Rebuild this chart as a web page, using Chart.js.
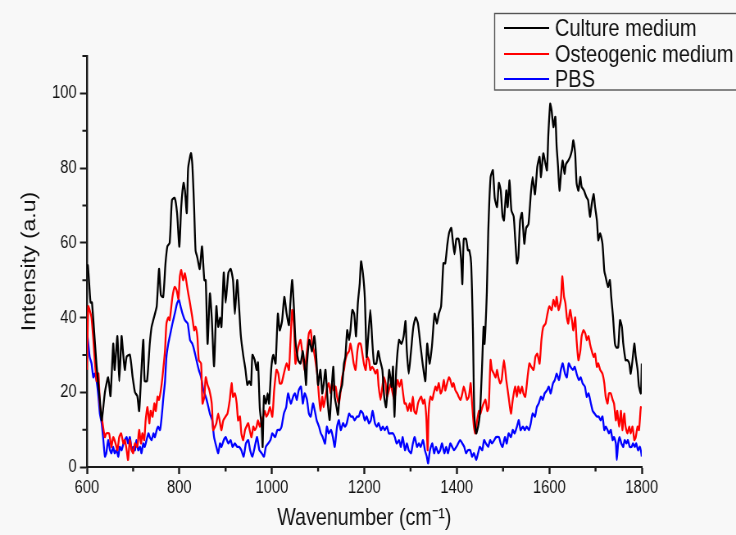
<!DOCTYPE html>
<html>
<head>
<meta charset="utf-8">
<script src="https://cdn.jsdelivr.net/npm/chart.js@4.4.0/dist/chart.umd.min.js"></script>
<style>
body { margin: 0; background: #f8f8f8; overflow: hidden; }
canvas { display: block; }
</style>
</head>
<body>
<!-- the figure is horizontally squashed, so draw wide and shrink to 736 -->
<canvas id="myChart" width="898" height="535" style="width:736px;height:535px"></canvas>
<script>
// [wavenumber cm-1, intensity a.u]
var culture = [[600,53],[602,54],[605,49],[608,44],[611,44],[621,27],[628,18],[632,12.5],[639,20],[646,24],[651,19],[657,33],[660,26],[666,35],[670,23],[675,35],[678,31],[682,26],[686,29.5],[693,30],[699,24],[704,20],[709,19],[713,15],[718,26],[722,34],[725,23],[730,23],[736,33],[740,37.5],[745,40],[751,43],[756,53],[760,46],[765,45.5],[770,54.5],[774,59],[779,60],[784,71.5],[790,72],[795,68],[800,59],[804,69.6],[809,76],[812,74],[816,68],[819,80],[825,84],[828,81],[832,69],[835,58],[839,56],[844,53],[849,59],[854,50],[857,50],[861,33],[866,46.4],[870,40],[875,27],[880,43],[884,37.5],[888,40],[891,37.5],[896,52],[900,44],[906,52],[911,53],[916,50],[920,41],[925,50],[929,43],[933,35],[938,30],[943,26],[947,22],[951,23],[955,22],[958,30],[963,28.6],[967,26],[970,28],[974,15.7],[978,10.8],[980,5.4],[983,19],[987,17],[991,19.7],[994,17],[999,26.8],[1003,30],[1008,27.7],[1013,41],[1017,36.6],[1022,39],[1027,45.5],[1032,41],[1037,38],[1040,43.8],[1044,50],[1048,42],[1051,34],[1057,28.6],[1062,27.7],[1067,31],[1071,26.8],[1074,22],[1076,27.7],[1081,34],[1087,31],[1092,35],[1096,29.5],[1100,22],[1105,26],[1109,19.7],[1112,22],[1116,26],[1121,17],[1125,12.6],[1129,20.5],[1133,26.8],[1136,18.8],[1140,16],[1143,14],[1147,19.7],[1152,22],[1156,27.7],[1159,29.5],[1163,36.6],[1167,34],[1170,36.6],[1174,42],[1178,41],[1182,35],[1186,43.8],[1190,49],[1193,55],[1197,51.8],[1201,45.5],[1205,29.5],[1208,34],[1213,42],[1217,34],[1221,27.7],[1226,27.7],[1230,31],[1234,28.6],[1239,26],[1243,18.8],[1247,16],[1251,22],[1254,26],[1259,21.5],[1262,26.8],[1265,13.5],[1269,26],[1275,34],[1280,33],[1285,35],[1289,39],[1292,31],[1296,25],[1301,31],[1306,37.5],[1311,40],[1316,38.4],[1321,33],[1327,26.8],[1332,23],[1336,33],[1341,27.7],[1346,32],[1352,41],[1357,38.4],[1361,41],[1366,43],[1371,54.5],[1375,54.5],[1379,59],[1383,62.5],[1388,64],[1391,61],[1395,57],[1399,61],[1404,61],[1409,56],[1412,49],[1415,61],[1420,61],[1424,58],[1427,58],[1431,54.5],[1435,35.7],[1438,13.5],[1442,9],[1446,10.8],[1450,14.3],[1454,25],[1458,37.5],[1460,33],[1465,47],[1468,63],[1473,77.6],[1478,79.4],[1482,72],[1487,69.6],[1491,76],[1495,74],[1499,67],[1502,66],[1507,74],[1510,69.6],[1514,76.7],[1518,68.7],[1523,67],[1526,61.6],[1530,54.5],[1533,56],[1537,66],[1541,68],[1546,59.8],[1550,64],[1555,65],[1560,73],[1564,77.6],[1569,73],[1574,80.3],[1579,83],[1582,77.6],[1587,83.9],[1592,81],[1595,79.4],[1598,89],[1602,97.2],[1605,95.4],[1609,91],[1613,93.7],[1616,85.6],[1619,80.3],[1622,74],[1626,79.4],[1629,82],[1633,78.5],[1636,81],[1641,82],[1645,83],[1649,84.8],[1652,87.4],[1656,83.9],[1659,76],[1663,74],[1667,77.6],[1670,75],[1675,74],[1680,72.3],[1684,71.4],[1688,67],[1692,70.5],[1696,73],[1699,69.6],[1703,66],[1706,60.7],[1710,62.5],[1715,59.8],[1719,52.5],[1722,50.8],[1727,48.2],[1731,50],[1734,45.5],[1738,40],[1742,33],[1745,32],[1749,32],[1753,39.3],[1757,37.5],[1760,33],[1765,28.6],[1769,28.6],[1773,27.7],[1776,25],[1780,28.6],[1784,33],[1787,29.5],[1791,26],[1794,21.5],[1798,19.7],[1800,27.7]];

var osteo = [[600,26],[603,43],[606,42],[610,40],[614,34],[617,28.6],[621,23],[625,25],[628,17],[632,13.5],[635,10.8],[639,8],[642,9],[648,9],[653,5.4],[657,8],[662,6.3],[666,4.5],[670,8],[674,9],[679,6.3],[682,7.2],[686,4.5],[689,1.9],[693,7.2],[697,4.5],[700,3.7],[704,6.3],[709,5.4],[713,9.9],[717,6.3],[720,9],[724,7.2],[727,12.5],[731,16],[735,11.7],[738,15],[742,13.5],[746,17],[749,15],[753,18.8],[756,18],[761,21.5],[765,26],[769,31.3],[772,38.4],[776,40],[779,39.3],[785,45.5],[790,48.2],[794,47.3],[798,45],[801,51],[804,52.7],[808,50],[812,51.8],[818,47.3],[823,43.8],[828,40],[832,36.6],[835,37.5],[839,34.8],[842,28.6],[847,27.7],[850,17],[854,18.8],[857,24],[861,22],[865,20.5],[870,17],[873,9.9],[877,10.8],[880,11.7],[884,14.3],[888,11.7],[891,9.9],[895,12.5],[900,13.5],[904,14.3],[909,18],[913,22.4],[916,18.8],[920,19.7],[924,17],[927,12.5],[931,13.5],[934,9],[938,7.2],[942,9.9],[945,10.8],[949,11.7],[952,9.9],[956,8],[960,10.8],[963,9.9],[967,10.8],[970,12.5],[974,10.8],[978,12.5],[981,13.5],[985,15],[988,13.5],[992,14.3],[996,16],[1001,13.5],[1005,20.5],[1010,26],[1014,25],[1017,22.4],[1021,22.4],[1026,25],[1032,27.7],[1037,26],[1040,33],[1044,42],[1048,37.5],[1051,27.7],[1057,32],[1062,34],[1067,29.5],[1071,26],[1076,31],[1080,35.7],[1084,36.6],[1087,33],[1091,31],[1094,28.6],[1098,25],[1102,18.8],[1105,15],[1109,18.8],[1112,16],[1116,18.8],[1120,21.5],[1123,22.4],[1127,19.7],[1130,22.4],[1134,20.5],[1138,21.5],[1141,18.8],[1145,17],[1149,20.5],[1152,24],[1156,26],[1159,28.6],[1163,30.3],[1167,31],[1170,33],[1174,30.3],[1177,27.7],[1181,26],[1185,31],[1188,33],[1192,33],[1195,31],[1199,27.7],[1203,26],[1206,29.5],[1210,28.6],[1213,26],[1217,26.8],[1221,26],[1224,25],[1228,26],[1231,21.5],[1235,18],[1239,21.5],[1242,24],[1246,22.4],[1249,18.8],[1253,20.5],[1257,22.4],[1260,20.5],[1265,18],[1269,21.5],[1272,23.3],[1276,21.5],[1280,23.3],[1283,20.5],[1287,17],[1290,17],[1294,15],[1298,17],[1301,15],[1305,18.8],[1308,15],[1312,14.3],[1316,17],[1319,18],[1323,18.8],[1327,17],[1330,18],[1334,13.5],[1337,4.5],[1339,14.3],[1343,18.8],[1347,18],[1350,19.7],[1354,21.5],[1357,20.5],[1361,22.4],[1365,19.7],[1368,20.5],[1372,23.3],[1375,20.5],[1379,22.4],[1383,24],[1386,23.3],[1390,21.5],[1393,22.4],[1397,20.5],[1401,19.7],[1404,18.8],[1408,18],[1412,19.7],[1415,21.5],[1419,19.7],[1422,18],[1426,18.8],[1430,22.4],[1433,17],[1437,10.8],[1440,9],[1444,12.5],[1448,15],[1451,14.3],[1455,16],[1458,17],[1462,18],[1466,15],[1469,16],[1473,28.6],[1476,26],[1480,25],[1484,24],[1487,26],[1490,24],[1494,22.4],[1497,23.3],[1502,28.6],[1507,23.3],[1512,18.8],[1517,14.3],[1521,18],[1526,21.5],[1530,18.8],[1533,21.5],[1537,19.7],[1541,21.5],[1544,19.7],[1548,18.8],[1553,24],[1557,27.7],[1561,26.8],[1566,26],[1570,29.5],[1574,30.3],[1579,27.7],[1583,34],[1587,37.5],[1592,38.4],[1596,41],[1600,43],[1605,42],[1609,44.7],[1613,43],[1616,45.5],[1620,42],[1625,44.7],[1628,51],[1632,45.5],[1635,43.8],[1638,40],[1641,38.4],[1645,42],[1649,39.3],[1652,36.6],[1656,40],[1659,34],[1663,28.6],[1667,31],[1670,35],[1674,36.6],[1678,35.7],[1681,34],[1685,35],[1688,33],[1692,31],[1696,29.5],[1699,30.3],[1703,26.8],[1706,27.7],[1710,26],[1715,25],[1719,22.4],[1722,18.8],[1726,17],[1729,19.7],[1733,19.7],[1737,18],[1740,17],[1744,12.5],[1747,15],[1751,10.8],[1755,15],[1758,9.9],[1762,14.3],[1765,10.8],[1769,9],[1773,10.8],[1776,9],[1780,10.8],[1784,7.2],[1787,8],[1791,10.8],[1794,9.9],[1798,16],[1800,15.7]];

var pbs = [[600,36.6],[603,33],[606,29.5],[610,27.7],[614,24],[617,25],[621,23],[625,18.8],[628,14.3],[632,11.7],[635,8],[639,2.8],[642,3.7],[646,7.2],[650,4.5],[653,3.7],[657,5.4],[660,3.7],[664,4.5],[668,2.8],[671,5.4],[675,4.5],[679,6.3],[682,7.2],[686,8],[689,6.3],[693,8],[697,4.5],[700,5.4],[704,4.5],[707,7.2],[711,4.5],[715,5.4],[718,3.7],[722,6.3],[725,5.4],[729,7.2],[733,9],[736,8],[740,7.2],[744,9],[747,8],[751,9.9],[754,10.8],[758,9.9],[761,12.5],[765,18],[769,23],[772,29.5],[776,33],[779,34.8],[785,38.4],[790,41],[795,43.8],[799,44.7],[803,42.8],[807,41],[812,39.3],[818,38.4],[823,34],[828,33],[832,31.3],[837,28.6],[842,26],[847,24],[852,20.5],[857,18.8],[861,17],[866,14.3],[871,12.5],[875,8],[880,5.4],[884,3.7],[888,6.3],[891,5.4],[896,7.2],[900,8],[906,6.3],[911,7.2],[915,5.4],[920,6.3],[925,5.4],[929,5.4],[934,4.5],[939,2.8],[944,6.3],[949,7.2],[953,4.5],[958,2.8],[963,5.4],[968,8],[973,4.5],[978,3.7],[983,2.8],[987,5.4],[992,6.3],[997,7.2],[1001,9],[1007,8],[1012,9.9],[1017,9.9],[1021,10.8],[1026,14.3],[1031,16],[1035,19.7],[1041,17],[1046,18.8],[1050,19.7],[1054,18],[1058,20.5],[1063,21.5],[1067,17],[1071,19.7],[1076,18],[1080,14.3],[1084,13.5],[1089,17],[1093,15],[1097,12.5],[1102,10.8],[1106,9],[1110,8],[1115,6.3],[1119,10.8],[1123,9],[1128,9.9],[1132,8],[1136,5.4],[1141,10.8],[1145,12.5],[1149,9.9],[1154,11.7],[1158,10.8],[1162,11.7],[1167,14.3],[1171,13.5],[1175,13.5],[1179,12.5],[1184,13.5],[1188,13.5],[1192,15],[1197,14.3],[1201,12.5],[1205,13.5],[1210,11.7],[1214,12.5],[1218,15],[1223,11.7],[1227,10.8],[1231,11.7],[1236,9.9],[1240,10.8],[1244,9.9],[1249,10.8],[1253,9],[1257,9],[1262,9],[1266,8],[1270,6.3],[1275,7.2],[1279,5.4],[1283,8],[1288,4.5],[1292,6.3],[1296,4.5],[1301,3.7],[1305,6.3],[1309,8],[1314,5.4],[1318,6.3],[1322,5.4],[1327,7.2],[1331,4.5],[1335,2.8],[1338,1],[1342,4.5],[1347,6.3],[1351,3.7],[1355,5.4],[1360,3.7],[1364,4.5],[1368,6.3],[1373,3.7],[1377,5.4],[1381,3.7],[1386,6.3],[1390,5.4],[1394,4.5],[1399,5.4],[1403,6.3],[1407,7.2],[1412,6.3],[1416,5.4],[1420,3.7],[1424,4.5],[1429,4.5],[1433,2.8],[1437,3.7],[1442,1.9],[1446,3.7],[1450,5.4],[1455,4.5],[1459,7.2],[1463,6.3],[1468,5.4],[1472,7.2],[1476,6.3],[1481,7.2],[1485,8],[1491,8],[1495,6.3],[1499,5.4],[1504,8],[1508,6.3],[1512,9],[1517,8],[1521,9.9],[1525,9],[1530,10.8],[1534,12.5],[1538,9.9],[1543,10.8],[1547,9.9],[1551,10.8],[1556,9.9],[1560,11.7],[1564,14.3],[1569,13.5],[1573,16],[1577,17],[1582,18.8],[1586,18],[1590,19.7],[1595,20.5],[1599,21.5],[1603,19.7],[1608,22.4],[1612,23.3],[1616,25],[1621,23.3],[1625,26],[1629,27.7],[1634,25],[1638,24],[1642,27.7],[1646,26.8],[1651,26],[1655,26.8],[1659,25],[1664,23.3],[1668,24],[1672,22.4],[1677,21.5],[1681,18.8],[1685,19.7],[1690,17],[1694,15],[1698,14.3],[1703,13.5],[1707,13.5],[1711,12.5],[1715,13.5],[1719,9.9],[1722,10.8],[1726,9.9],[1729,9],[1733,9.9],[1737,7.2],[1740,8],[1744,6.3],[1746,1.9],[1749,6.3],[1752,8],[1756,6.3],[1760,5.4],[1763,7.2],[1767,6.3],[1770,7.2],[1774,5.4],[1778,5.4],[1781,6.3],[1785,5.4],[1788,6.3],[1792,4.5],[1796,5.4],[1799,3.7],[1800,2.8]];

var seriesNames = ['Culture medium', 'Osteogenic medium', 'PBS'];
var seriesColors = ['#000000', '#ff0000', '#0000ff'];
var xMinor = [700, 900, 1100, 1300, 1500, 1700];
var yMinor = [10, 30, 50, 70, 90, 110];

var fontFam = "'Liberation Sans', Arial, sans-serif";
var axisColor = '#1a1a1a';
Chart.defaults.font.family = fontFam;

function toPoints(arr) {
	return arr.map(function(p) { return {x: p[0], y: p[1]}; });
}

var bgPlugin = {
	id: 'bg',
	beforeDraw: function(chart) {
		var ctx = chart.ctx;
		ctx.save();
		ctx.fillStyle = '#f8f8f8';
		ctx.fillRect(0, 0, chart.width, chart.height);
		ctx.restore();
	}
};

// Chart.js has no minor ticks, draw them from the scales
var minorTicks = {
	id: 'minorTicks',
	afterDraw: function(chart) {
		var ctx = chart.ctx;
		var xs = chart.scales.x, ys = chart.scales.y;
		ctx.save();
		ctx.strokeStyle = axisColor;
		ctx.lineWidth = 2.4;
		ctx.beginPath();
		xMinor.forEach(function(v) {
			var px = xs.getPixelForValue(v);
			ctx.moveTo(px, xs.top);
			ctx.lineTo(px, xs.top + 4.5);
		});
		ctx.stroke();
		ctx.lineWidth = 2;
		ctx.beginPath();
		yMinor.forEach(function(v) {
			var py = ys.getPixelForValue(v);
			ctx.moveTo(ys.right, py);
			ctx.lineTo(ys.right - 5.5, py);
		});
		ctx.stroke();
		ctx.restore();
	}
};

var legendBox = {
	id: 'legendBox',
	afterDraw: function(chart) {
		var ctx = chart.ctx;
		var rows = [28, 54, 79];
		ctx.save();
		ctx.fillStyle = '#f8f8f8';
		ctx.fillRect(603, 13, 320, 77);
		ctx.strokeStyle = '#555';
		ctx.lineWidth = 1.4;
		ctx.strokeRect(603.5, 13.5, 320, 76.5);
		ctx.font = "24.5px " + fontFam;
		ctx.textBaseline = 'middle';
		chart.data.datasets.forEach(function(ds, i) {
			ctx.strokeStyle = ds.borderColor;
			ctx.lineWidth = 2;
			ctx.beginPath();
			ctx.moveTo(615, rows[i]);
			ctx.lineTo(670, rows[i]);
			ctx.stroke();
			ctx.fillStyle = '#111';
			ctx.fillText(ds.label, 677, rows[i] + 1);
		});
		ctx.restore();
	}
};

var ctx = document.getElementById('myChart');
var myChart = new Chart(ctx, {
	type: 'line',
	data: {
		datasets: [culture, osteo, pbs].map(function(s, i) {
			return {
				label: seriesNames[i],
				data: toPoints(s),
				borderColor: seriesColors[i],
				backgroundColor: seriesColors[i],
				borderWidth: 2.3,
				pointRadius: 0,
				tension: 0.2,
				fill: false
			};
		})
	},
	options: {
		responsive: false,
		animation: false,
		events: [],
		layout: { padding: { top: 56, right: 115, bottom: 0, left: 0 } },
		plugins: {
			legend: { display: false },
			tooltip: { enabled: false }
		},
		scales: {
			x: {
				type: 'linear',
				min: 600,
				max: 1800,
				afterFit: function(s) { s.height = 68; },
				ticks: {
					stepSize: 200, color: '#111', font: { size: 18 }, padding: 3, maxRotation: 0,
					callback: function(v) { return String(v); }
				},
				grid: { drawOnChartArea: false, tickLength: 7, tickColor: axisColor, tickWidth: 2.4 },
				border: { color: axisColor, width: 2 },
				title: { display: true, text: 'Wavenumber (cm\u207B\u00B9)', color: '#111', font: { size: 24 }, padding: { top: 0, bottom: 2 } }
			},
			y: {
				min: 0,
				max: 110,
				afterFit: function(s) { s.width = 106; },
				afterBuildTicks: function(s) {
					s.ticks = s.ticks.filter(function(t) { return t.value % 20 === 0; });
				},
				ticks: { stepSize: 20, color: '#111', font: { size: 18 }, padding: 4 },
				grid: { drawOnChartArea: false, tickLength: 8.5, tickColor: axisColor, tickWidth: 2 },
				border: { color: axisColor, width: 2.4 },
				title: { display: true, text: 'Intensity (a.u)', color: '#111', font: { size: 23 }, padding: { top: 23, bottom: 0 } }
			}
		}
	},
	plugins: [bgPlugin, minorTicks, legendBox]
});
</script>
</body>
</html>
